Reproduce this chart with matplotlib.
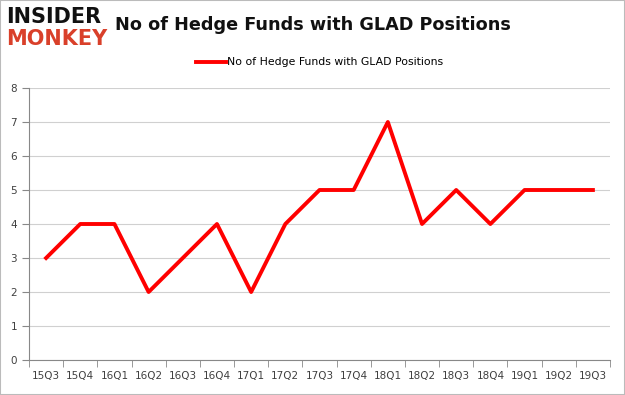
import matplotlib.pyplot as plt
import numpy as np

quarters = ["15Q3", "15Q4", "16Q1", "16Q2", "16Q3", "16Q4", "17Q1", "17Q2", "17Q3",
            "17Q4", "18Q1", "18Q2", "18Q3", "18Q4", "19Q1", "19Q2", "19Q3"]
funds = [3, 4, 4, 2, 3, 4, 2, 4, 5, 5, 7, 4, 5, 4, 5, 5, 5]

fig = plt.figure(figsize=(6.25, 3.95), dpi=100)
ax = fig.add_axes([0.0464, 0.0886, 0.9296, 0.6886])

x = np.arange(len(quarters))
ax.plot(x, funds, color="#ff0000", linewidth=2.8, label="No of Hedge Funds with GLAD Positions")

ax.set_xlim(-0.5, len(quarters) - 0.5)
ax.set_ylim(0, 8)
ax.set_yticks(range(9))
ax.set_xticks(x)
ax.set_xticklabels(quarters)
ax.set_xticks(np.arange(-0.5, len(quarters)), minor=True)
ax.tick_params(axis="x", which="major", length=0, pad=8, labelsize=7.5, labelcolor="#404040")
ax.tick_params(axis="x", which="minor", length=5, color="#888888")
ax.tick_params(axis="y", length=5, color="#888888", labelsize=7.5, labelcolor="#404040")
ax.grid(axis="y", color="#d0d0d0", linewidth=0.8)
ax.set_axisbelow(True)
for side in ["top", "right"]:
    ax.spines[side].set_visible(False)
ax.spines["left"].set_color("#888888")
ax.spines["bottom"].set_color("#888888")

ax.legend(loc="lower center", bbox_to_anchor=(0.5, 1.04), frameon=False, fontsize=7.8,
          handlelength=2.8, handletextpad=0.1)

# logo and title
fig.text(0.01, 0.957, "INSIDER", fontsize=15, fontweight="bold", color="#111111", va="center")
fig.text(0.01, 0.902, "MONKEY", fontsize=15, fontweight="bold", color="#d9402a", va="center")
fig.text(0.184, 0.937, "No of Hedge Funds with GLAD Positions", fontsize=12.7,
         fontweight="bold", color="#111111", va="center")

fig.patches.append(plt.Rectangle((0, 0), 1, 1, transform=fig.transFigure, fill=False,
                                 edgecolor="#bbbbbb", linewidth=1.5))

fig.savefig("out.png", dpi=100)
